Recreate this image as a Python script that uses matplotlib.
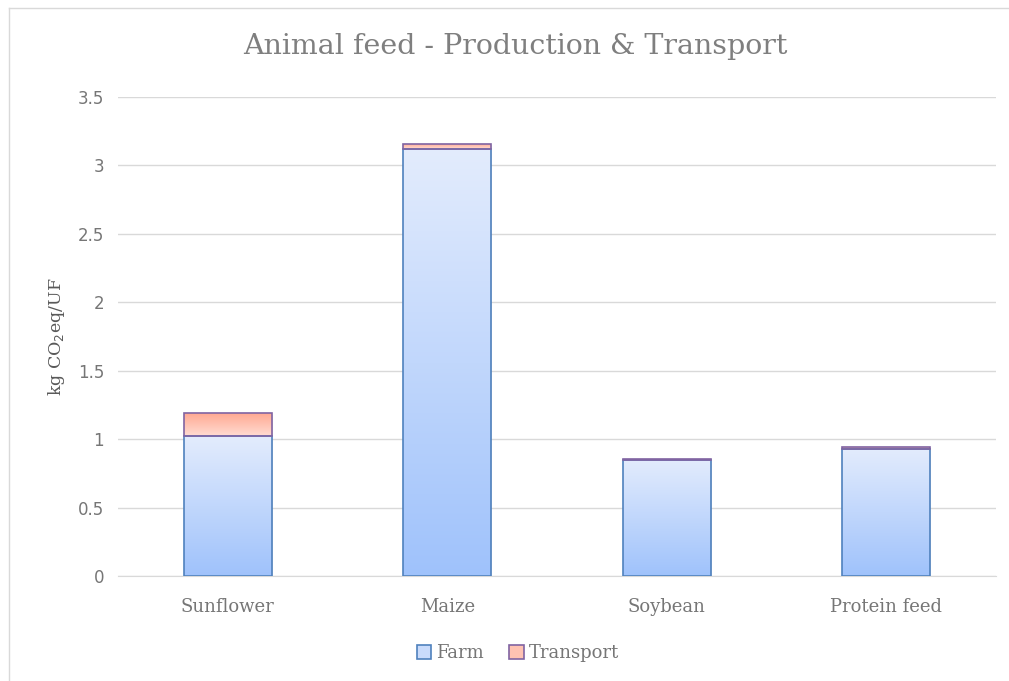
import matplotlib
matplotlib.use("Agg")
import matplotlib.pyplot as plt
import numpy as np
from matplotlib.colors import LinearSegmentedColormap
from matplotlib.patches import Rectangle
from matplotlib.lines import Line2D

categories = ["Sunflower", "Maize", "Soybean", "Protein feed"]
farm = [1.02, 3.12, 0.85, 0.93]
transport = [0.17, 0.04, 0.006, 0.015]
yticks = [0, 0.5, 1, 1.5, 2, 2.5, 3, 3.5]
ytick_labels = ["0", "0.5", "1", "1.5", "2", "2.5", "3", "3.5"]

serif = ["DejaVu Serif"]
gray = "#595959"
lightgray = "#767676"

fig = plt.figure(figsize=(10.09, 6.81), dpi=100)
ax = fig.add_axes([118/1009, 1-576/681, (996-118)/1009, (576-97)/681])

x = np.arange(len(categories))
width = 0.4

farm_cmap = LinearSegmentedColormap.from_list("farm", ["#9fc2fb", "#e3ecfd"])
trans_cmap = LinearSegmentedColormap.from_list("trans", ["#ffdcd2", "#ffa68f"])
grad = np.linspace(0, 1, 256).reshape(-1, 1)

farm_bars = ax.bar(x, farm, width, facecolor="none", edgecolor="#4f81bd", linewidth=1.2, zorder=3)
trans_bars = ax.bar(x, transport, width, bottom=farm, facecolor="none", edgecolor="#8064a2", linewidth=1.2, zorder=4)

for bars, cmap in [(farm_bars, farm_cmap), (trans_bars, trans_cmap)]:
    for b in bars:
        x0, y0 = b.get_x(), b.get_y()
        w, h = b.get_width(), b.get_height()
        im = ax.imshow(grad, cmap=cmap, origin="lower", aspect="auto",
                       extent=[x0, x0 + w, y0, y0 + h], zorder=2)
        im.set_clip_path(b)
        ax.add_patch(Rectangle((x0 + 0.006, y0 - 0.01), w, h, facecolor="#000000",
                               alpha=0.08, edgecolor="none", zorder=1.5))

ax.set_xlim(-0.5, len(categories) - 0.5)
ax.set_ylim(0, 3.5)
ax.set_yticks(yticks)
ax.set_yticklabels(ytick_labels, color=lightgray, fontsize=12)
ax.set_xticks(x)
ax.set_xticklabels(categories, fontfamily=serif, color=lightgray, fontsize=13)
ax.tick_params(axis="both", length=0, pad=10)
ax.tick_params(axis="x", pad=16)
ax.yaxis.grid(True, color="#d9d9d9", linewidth=1, zorder=0)
ax.set_axisbelow(True)
for s in ["top", "right", "left"]:
    ax.spines[s].set_visible(False)
ax.spines["bottom"].set_color("#d9d9d9")

ax.set_ylabel("kg CO$_2$eq/UF", fontfamily=serif, color=gray, fontsize=12.5, labelpad=8)

fig.text(515/1009, 1-47/681, "Animal feed - Production & Transport", ha="center", va="center",
         fontfamily=serif, color="#7f7f7f", fontsize=20.5)

handles = [Rectangle((0, 0), 1, 1, facecolor="#c9dbfb", edgecolor="#4f81bd", linewidth=1.2),
           Rectangle((0, 0), 1, 1, facecolor="#ffc2b2", edgecolor="#8064a2", linewidth=1.2)]
leg = fig.legend(handles, ["Farm", "Transport"], loc="center", bbox_to_anchor=(518/1009, 1-653/681),
                 ncol=2, frameon=False, handlelength=0.8, handleheight=0.8, handletextpad=0.3,
                 columnspacing=1.4, prop={"family": serif, "size": 13})
for t in leg.get_texts():
    t.set_color(lightgray)

fig.add_artist(Line2D([9/1009, 9/1009], [0, 1-8/681], color="#d9d9d9", linewidth=1, transform=fig.transFigure))
fig.add_artist(Line2D([9/1009, 1], [1-8/681, 1-8/681], color="#d9d9d9", linewidth=1, transform=fig.transFigure))

fig.savefig("out.png", dpi=100)
